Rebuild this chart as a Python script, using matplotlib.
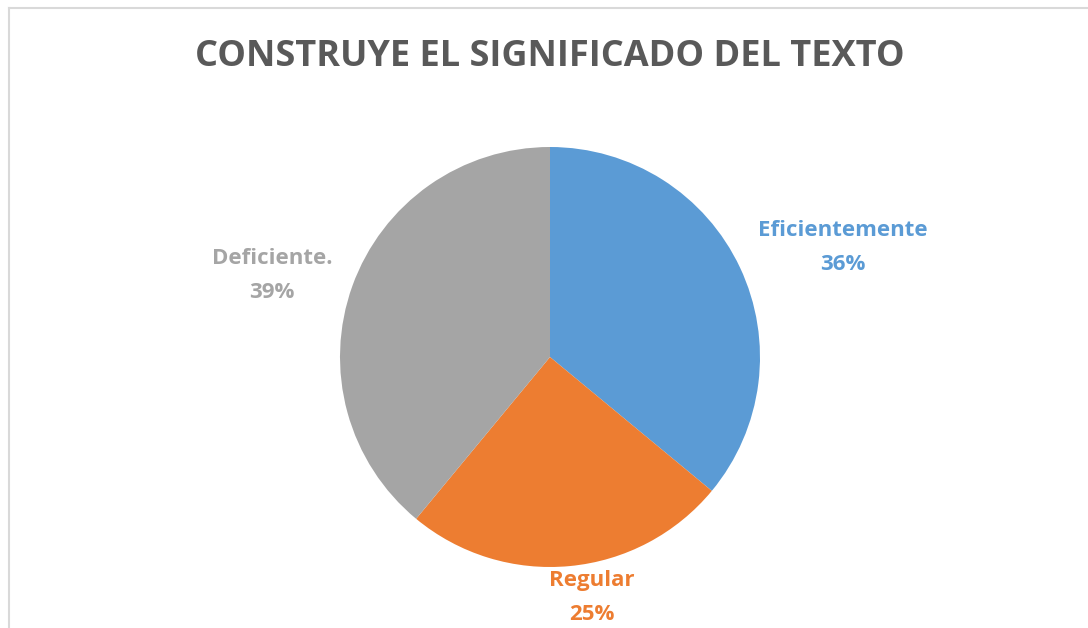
import matplotlib.pyplot as plt
from matplotlib.lines import Line2D

categories = ['Eficientemente', 'Regular', 'Deficiente.']
percentages = [36, 25, 39]
colors = ['#5B9BD5', '#ED7D31', '#A5A5A5']
title = 'CONSTRUYE EL SIGNIFICADO DEL TEXTO'

# label centres in pie units (radius = 1)
label_pos = [(1.395, 0.52), (0.20, -1.145), (-1.325, 0.39)]

plt.rcParams['font.family'] = ['Open Sans', 'DejaVu Sans']

fig = plt.figure(figsize=(10.88, 6.28), dpi=100)
W, H = 1088, 628

# light chart border (top and left visible only)
fig.add_artist(Line2D([8.5 / W, 8.5 / W], [0, 1 - 8 / H], color='#D9D9D9', lw=1.5))
fig.add_artist(Line2D([8.5 / W, 1], [1 - 8 / H, 1 - 8 / H], color='#D9D9D9', lw=1.5))

cx, cy, r = 550, 357, 210
ax = fig.add_axes([(cx - r) / W, (H - cy - r) / H, 2 * r / W, 2 * r / H])
ax.pie(percentages, colors=colors, startangle=90, counterclock=False,
       wedgeprops=dict(linewidth=0))
ax.set_xlim(-1, 1)
ax.set_ylim(-1, 1)
ax.set_aspect('equal')
ax.axis('off')

for name, pct, col, (x, y) in zip(categories, percentages, colors, label_pos):
    ax.text(x, y, f'{name}\n{pct}%', ha='center', va='center', color=col,
            fontsize=16, fontweight='bold', linespacing=1.8, clip_on=False)

fig.text(549.5 / W, 1 - 57 / H, title, ha='center', va='center',
         fontsize=26, fontweight='bold', color='#595959')

plt.savefig('out.png', dpi=100)
